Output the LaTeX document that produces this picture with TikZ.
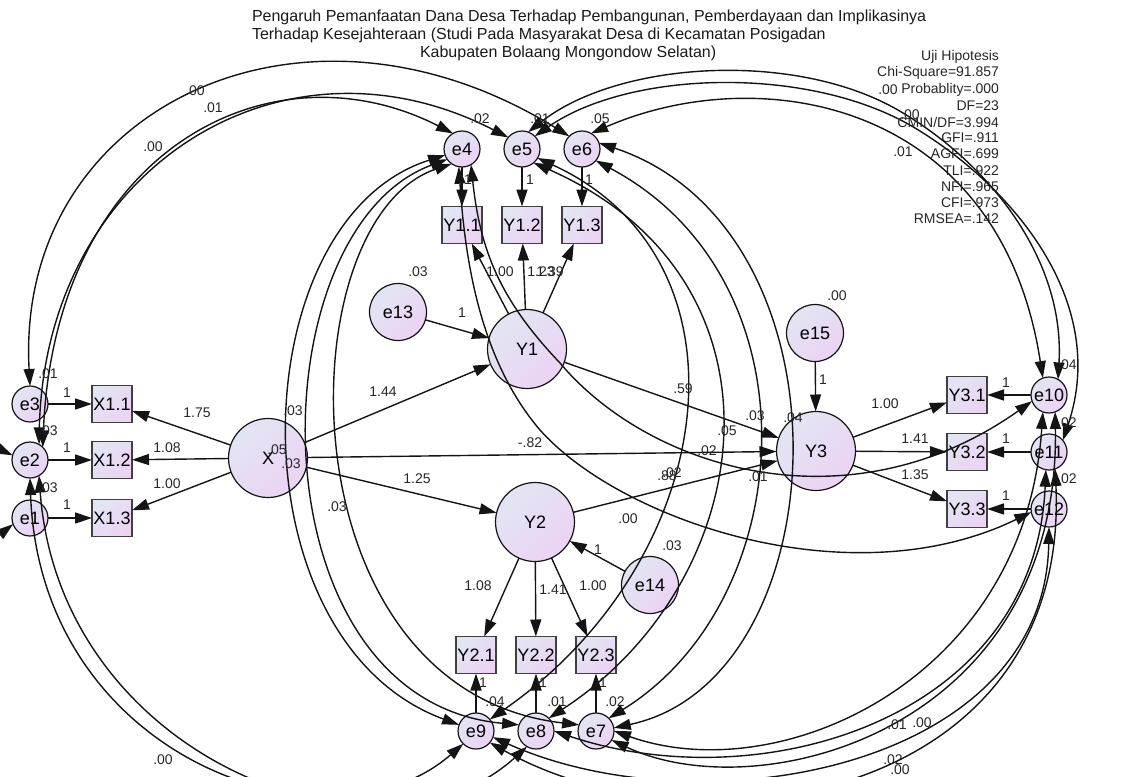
\documentclass[tikz,border=0pt]{standalone}
\usepackage{fontspec}
\setmainfont{Liberation Sans}
\usetikzlibrary{arrows.meta}
\definecolor{shA}{HTML}{E2E5F3}
\definecolor{shB}{HTML}{ECD3F4}
\definecolor{ink}{HTML}{141414}
\begin{document}
\begin{tikzpicture}[x=1pt,y=-1pt,
  every node/.style={inner sep=0pt, outer sep=0pt},
  grad/.style={top color=shA, bottom color=shB, shading angle=45},
  nodefont/.style={font=\fontsize{18}{18}\selectfont},
  errc/.style={circle, draw=ink, line width=1.2pt, minimum size=36pt, grad, nodefont},
  latc/.style={circle, draw=ink, line width=1.2pt, minimum size=79pt, grad, nodefont},
  disc/.style={circle, draw=ink, line width=1.2pt, minimum size=57pt, grad, nodefont},
  obsb/.style={rectangle, draw=black!75, line width=1.6pt, minimum width=40pt, minimum height=37pt, grad, nodefont},
  reg/.style={-{Triangle[length=17pt,width=11pt]}, line width=1.4pt, draw=ink},
  cov/.style={{Triangle[length=17pt,width=11pt]}-{Triangle[length=17pt,width=11pt]}, line width=1.4pt, draw=ink},
  lab/.style={font=\fontsize{14}{14}\selectfont, text=black!85},
  titlef/.style={font=\fontsize{16}{16}\selectfont, text=black!90},
]
\useasboundingbox (0,0) rectangle (1123,776);
\begin{scope}
\clip (0,0) rectangle (1123,776);
% ---------- nodes ----------
\node[errc] (e3) at (30,404) {e3};
\node[errc] (e2) at (30,460) {e2};
\node[errc] (e1) at (30,518) {e1};
\node[obsb] (X11) at (112,404) {X1.1};
\node[obsb] (X12) at (112,460) {X1.2};
\node[obsb] (X13) at (112,518) {X1.3};
\node[latc] (X) at (268,458) {X};
\node[latc] (Y1) at (527,349) {Y1};
\node[latc] (Y2) at (535,522) {Y2};
\node[latc] (Y3) at (816,451) {Y3};
\node[disc] (e13) at (398,312) {e13};
\node[disc] (e14) at (650,585) {e14};
\node[disc] (e15) at (815,333) {e15};
\node[errc] (e4) at (462,149) {e4};
\node[errc] (e5) at (522,149) {e5};
\node[errc] (e6) at (582,149) {e6};
\node[obsb] (Y11) at (462,225) {Y1.1};
\node[obsb] (Y12) at (522,225) {Y1.2};
\node[obsb] (Y13) at (582,225) {Y1.3};
\node[obsb] (Y21) at (476,655) {Y2.1};
\node[obsb] (Y22) at (536,655) {Y2.2};
\node[obsb] (Y23) at (596,655) {Y2.3};
\node[errc] (e9) at (476,731) {e9};
\node[errc] (e8) at (536,731) {e8};
\node[errc] (e7) at (596,731) {e7};
\node[obsb] (Y31) at (967,395) {Y3.1};
\node[obsb] (Y32) at (967,452) {Y3.2};
\node[obsb] (Y33) at (967,509) {Y3.3};
\node[errc] (e10) at (1049,395) {e10};
\node[errc] (e11) at (1049,452) {e11};
\node[errc] (e12) at (1049,509) {e12};
\coordinate (offA) at (-60,400);
\coordinate (offB) at (-60,580);
% ---------- regression paths ----------
\draw[reg] (e3) -- (X11);
\draw[reg] (e2) -- (X12);
\draw[reg] (e1) -- (X13);
\draw[reg] (X) -- (X11);
\draw[reg] (X) -- (X12);
\draw[reg] (X) -- (X13);
\draw[reg] (X) -- (Y1);
\draw[reg] (X) -- (Y2);
\draw[reg] (X) -- (Y3);
\draw[reg] (e13) -- (Y1);
\draw[reg] (Y1) -- (Y11);
\draw[reg] (Y1) -- (Y12);
\draw[reg] (Y1) -- (Y13);
\draw[reg] (e4) -- (Y11);
\draw[reg] (e5) -- (Y12);
\draw[reg] (e6) -- (Y13);
\draw[reg] (Y1) -- (Y3);
\draw[reg] (Y2) -- (Y3);
\draw[reg] (e14) -- (Y2);
\draw[reg] (Y2) -- (Y21);
\draw[reg] (Y2) -- (Y22);
\draw[reg] (Y2) -- (Y23);
\draw[reg] (e9) -- (Y21);
\draw[reg] (e8) -- (Y22);
\draw[reg] (e7) -- (Y23);
\draw[reg] (e15) -- (Y3);
\draw[reg] (Y3) -- (Y31);
\draw[reg] (Y3) -- (Y32);
\draw[reg] (Y3) -- (Y33);
\draw[reg] (e10) -- (Y31);
\draw[reg] (e11) -- (Y32);
\draw[reg] (e12) -- (Y33);
% ---------- covariances ----------
% top left
\draw[cov] (e3.north) .. controls (15,110) and (300,-30) .. (e6.135);
\draw[cov] (e2.60) .. controls (45,170) and (280,20) .. (e5.140);
\draw[cov] (e2.45) .. controls (55,150) and (270,40) .. (e4.120);
% bottom left
\draw[cov] (e2.south) .. controls (40,760) and (330,860) .. (e9.225);
\draw[cov] (e2.-60) .. controls (60,760) and (380,880) .. (e8.240);
\draw[reg] (offA) .. controls (-20,440) .. (e2.165);
\draw[reg] (offB) .. controls (-20,550) .. (e1.200);
% around X
\draw[cov] (e4.200) .. controls (240,220) and (230,640) .. (e9.160);
\draw[cov] (e4.215) .. controls (255,230) and (250,700) .. (e8.160);
\draw[cov] (e4.235) .. controls (285,220) and (280,690) .. (e7.160);
% right of Y1
\draw[cov] (e5.-30) .. controls (760,260) and (720,560) .. (e9.40);
\draw[cov] (e5.-50) .. controls (800,280) and (760,580) .. (e8.45);
\draw[cov] (e6.-40) .. controls (820,280) and (800,600) .. (e7.45);
\draw[cov] (e6.20) .. controls (860,230) and (840,680) .. (e7.10);
% top right
\draw[cov] (e5.70) .. controls (620,60) and (800,50) .. (903,113) .. controls (990,165) and (1065,260) .. (e10.60);
\draw[cov] (e5.45) .. controls (630,70) and (810,65) .. (915,128) .. controls (1010,185) and (1110,300) .. (e11.40);
\draw[cov] (e6.60) .. controls (760,60) and (1000,100) .. (e10.110);
% bottom right
\draw[cov] (e10.250) .. controls (1025,680) and (780,790) .. (e7.0);
\draw[cov] (e11.260) .. controls (1035,720) and (760,800) .. (e8.0);
\draw[cov] (e12.270) .. controls (1045,770) and (700,830) .. (e9.-20);
\draw[cov] (e10.290) .. controls (1060,730) and (760,810) .. (e7.-30);
\draw[cov] (e11.290) .. controls (1070,800) and (700,860) .. (e9.-40);
% through Y1
\draw[cov] (e4.-60) .. controls (480,250) and (500,300) .. (560,363) .. controls (650,470) and (850,530) .. (e10.200);
\draw[cov] (e4.-100) .. controls (465,260) and (480,360) .. (540,430) .. controls (620,520) and (850,600) .. (e12.190);
\end{scope}
% ---------- labels ----------
\foreach \xx/\yy/\txt [count=\i] in {
 48/374/{.01}, 48/431/{.03}, 48/488/{.03},
 480/119/{.02}, 540/119/{.01}, 600/119/{.05},
 418/272/{.03}, 837/296/{.00}, 672/546/{.03},
 615/702/{.02}, 557/702/{.01}, 495/702/{.04},
 1067/365/{.04}, 1067/423/{.02}, 1067/479/{.02},
 277/450/{.05}, 291/464/{.03}, 293/411/{.03}, 337/507/{.03},
 195/91/{.00}, 213/108/{.01}, 153/147/{.00},
 888/90/{.00}, 910/115/{.00}, 903/152/{.01},
 755/416/{.03}, 727/431/{.05}, 707/451/{.02}, 758/477/{.01}, 793/418/{.04},
 672/473/{.02}, 628/519/{.00},
 163/760/{.00}, 897/725/{.01}, 922/723/{.00}, 893/760/{.02}, 900/770/{.00},
 67/393/{1}, 67/448/{1}, 67/505/{1},
 197/413/{1.75}, 167/448/{1.08}, 167/484/{1.00},
 383/392/{1.44}, 417/479/{1.25}, 530/443/{-.82}, 683/389/{.59}, 667/476/{.88},
 462/313/{1}, 500/272/{1.00}, 541/272/{1.23}, 550/272/{1.39},
 468/180/{1}, 530/180/{1}, 589/180/{1},
 823/380/{1}, 885/404/{1.00}, 915/439/{1.41}, 915/475/{1.35},
 1006/383/{1}, 1006/439/{1}, 1006/496/{1},
 598/550/{1}, 478/586/{1.08}, 553/590/{1.41}, 593/586/{1.00},
 483/683/{1}, 543/683/{1}, 603/683/{1}}
 \node[lab] (lab\i) at (\xx,\yy) {\txt};
% fit statistics
\foreach \yy/\txt [count=\i] in {57/{Uji Hipotesis}, 73/{Chi-Square=91.857}, 90/{Probablity=.000},
 106/{DF=23}, 122/{CMIN/DF=3.994}, 138/{GFI=.911}, 154/{AGFI=.699}, 171/{TLI=.922},
 187/{NFI=.965}, 203/{CFI=.973}, 219/{RMSEA=.142}}
 \node[lab, anchor=east] (fit\i) at (999,\yy) {\txt};
% title
\node[titlef, anchor=west] (t1) at (252,17) {Pengaruh Pemanfaatan Dana Desa Terhadap Pembangunan, Pemberdayaan dan Implikasinya};
\node[titlef, anchor=west] (t2) at (252,35) {Terhadap Kesejahteraan (Studi Pada Masyarakat Desa di Kecamatan Posigadan};
\node[titlef, anchor=west] (t3) at (420,53) {Kabupaten Bolaang Mongondow Selatan)};
\end{tikzpicture}
\end{document}
